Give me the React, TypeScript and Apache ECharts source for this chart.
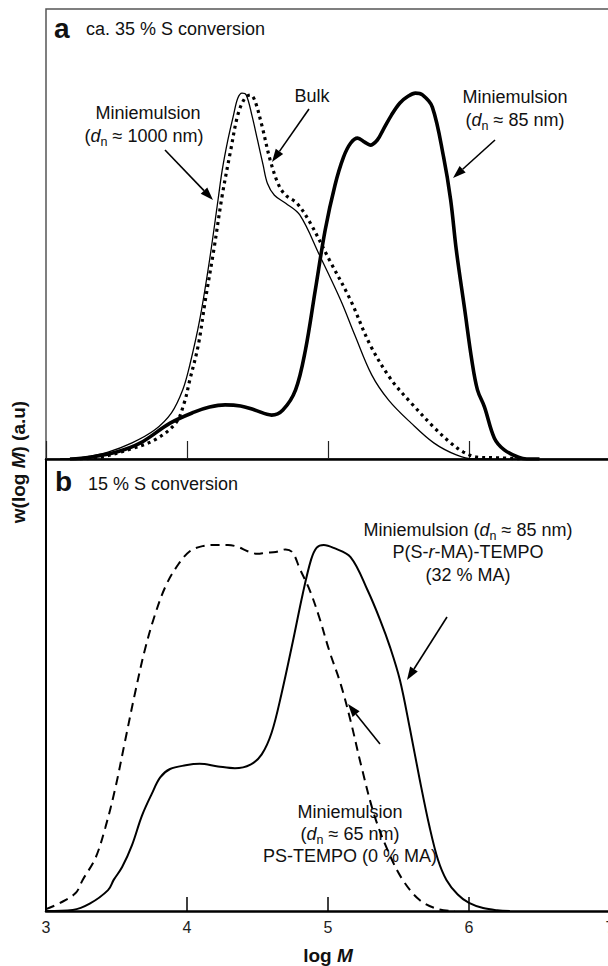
import React, { useEffect, useRef } from "react";
import * as echarts from "echarts";

// x axis (log M) ticks
const xTicks = [3, 4, 5, 6, 7];

// Panel a: ca. 35 % S conversion  [log M, w(log M)] (peak normalised to 100)
const aMini1000 = [
  [3.10, 0], [3.24, 0.3], [3.44, 1.9], [3.61, 4.4], [3.77, 7.9], [3.89, 12.6], [3.97, 18.9],
  [4.02, 25.7], [4.09, 38.0], [4.16, 54.4], [4.22, 70.8], [4.25, 79.0], [4.29, 87.2],
  [4.33, 94.0], [4.36, 98.6], [4.39, 100], [4.42, 99.5], [4.46, 94.0], [4.50, 87.2],
  [4.54, 80.3], [4.57, 75.4], [4.62, 72.1], [4.70, 69.9], [4.80, 66.7], [4.94, 55.7],
  [5.09, 43.4], [5.19, 33.9], [5.31, 23.0], [5.43, 16.1], [5.59, 9.8], [5.75, 4.4],
  [5.91, 1.1], [6.03, 0], [6.15, 0],
];
const aBulk = [
  [3.24, 0], [3.39, 0.5], [3.58, 2.5], [3.77, 5.2], [3.92, 9.8], [3.98, 15.3], [4.02, 21.6],
  [4.08, 31.1], [4.13, 43.4], [4.19, 57.1], [4.25, 72.1], [4.31, 84.4], [4.36, 94.0],
  [4.41, 98.6], [4.45, 99.5], [4.48, 98.1], [4.53, 91.3], [4.59, 81.7], [4.65, 74.9],
  [4.70, 72.1], [4.78, 69.9], [4.87, 64.8], [5.01, 54.4], [5.16, 43.4], [5.30, 31.1],
  [5.45, 21.6], [5.59, 15.3], [5.75, 8.7], [5.87, 4.4], [5.96, 1.9], [6.06, 0.5],
  [6.22, 0.3], [6.36, 0],
];
const aMini85 = [
  [3.17, 0], [3.31, 0.5], [3.50, 1.9], [3.67, 4.4], [3.88, 9.8], [4.05, 12.8], [4.16, 14.2],
  [4.27, 14.8], [4.38, 14.5], [4.48, 13.4], [4.60, 12.0], [4.68, 13.4], [4.77, 18.9],
  [4.84, 29.8], [4.91, 46.2], [4.98, 62.6], [5.05, 74.9], [5.11, 82.5], [5.16, 86.3],
  [5.21, 87.7], [5.26, 86.6], [5.30, 85.8], [5.35, 87.2], [5.39, 89.9], [5.45, 94.0],
  [5.51, 97.3], [5.57, 99.2], [5.62, 100], [5.67, 99.5], [5.74, 96.2], [5.82, 82.5],
  [5.87, 70.8], [5.91, 57.1], [5.97, 40.7], [6.02, 27.0], [6.06, 18.9], [6.11, 14.2],
  [6.18, 5.7], [6.25, 2.5], [6.35, 0.5], [6.41, 0], [6.50, 0],
];

// Panel b: 15 % S conversion
const bMini65 = [
  [3.00, 0.5], [3.10, 2.2], [3.21, 4.9], [3.26, 8.5], [3.35, 14.4], [3.42, 22.7], [3.49, 33.3],
  [3.56, 46.3], [3.63, 59.3], [3.70, 71.2], [3.77, 80.6], [3.85, 88.9], [3.94, 94.8],
  [4.02, 98.3], [4.11, 99.7], [4.20, 100], [4.29, 100], [4.36, 99.5], [4.43, 98.3],
  [4.50, 97.6], [4.56, 97.9], [4.63, 98.1], [4.70, 98.8], [4.75, 97.9], [4.80, 93.5],
  [4.87, 87.7], [4.94, 80.0], [5.01, 71.0], [5.09, 62.0], [5.16, 52.0], [5.24, 39.0],
  [5.33, 26.0], [5.43, 16.0], [5.53, 8.5], [5.65, 3.0], [5.78, 0.5], [5.90, 0],
];
const bMini85 = [
  [3.00, 0], [3.19, 0.3], [3.31, 2.0], [3.44, 5.7], [3.48, 8.5], [3.54, 12.0], [3.61, 18.0],
  [3.68, 26.0], [3.75, 32.0], [3.81, 36.5], [3.88, 38.8], [3.99, 39.8], [4.09, 40.2],
  [4.22, 39.5], [4.34, 39.0], [4.45, 40.0], [4.53, 42.8], [4.60, 48.7], [4.67, 59.3],
  [4.75, 73.5], [4.82, 86.5], [4.88, 96.0], [4.92, 99.3], [4.97, 100], [5.04, 99.2],
  [5.16, 96.7], [5.28, 87.7], [5.37, 79.5], [5.44, 72.1], [5.51, 63.1], [5.58, 50.0],
  [5.65, 36.0], [5.72, 23.0], [5.78, 14.0], [5.84, 8.5], [5.92, 4.5], [6.00, 2.2],
  [6.10, 0.8], [6.20, 0.2], [6.29, 0],
];

const FONT = "'Liberation Sans', Arial, Helvetica, sans-serif";
const FS = 18;

function arrow(x1: number, y1: number, x2: number, y2: number) {
  const ang = Math.atan2(y2 - y1, x2 - x1);
  const L = 13;
  const W = 4.5;
  const bx = x2 - L * Math.cos(ang);
  const by = y2 - L * Math.sin(ang);
  const px = -Math.sin(ang) * W;
  const py = Math.cos(ang) * W;
  return [
    { type: "line", silent: true, shape: { x1, y1, x2: bx, y2: by }, style: { stroke: "#000", lineWidth: 1.6 } },
    { type: "polygon", silent: true, shape: { points: [[x2, y2], [bx + px, by + py], [bx - px, by - py]] }, style: { fill: "#000" } },
  ];
}

const rich = {
  it: { fontStyle: "italic", fontSize: FS, fontFamily: FONT, fill: "#111", lineHeight: 24, verticalAlign: "middle" },
  sub: { fontSize: 12.5, fontFamily: FONT, fill: "#111", lineHeight: 12, verticalAlign: "bottom" },
};

function label(x: number, y: number, text: string, opts: any = {}) {
  return {
    type: "text",
    silent: true,
    x,
    y,
    rotation: opts.rotation || 0,
    style: {
      text,
      fill: "#111",
      fontSize: opts.fontSize || FS,
      fontFamily: FONT,
      fontWeight: opts.fontWeight || "normal",
      lineHeight: 24,
      align: opts.align || "center",
      verticalAlign: "middle",
      textAlign: opts.align || "center",
      textVerticalAlign: "middle",
      rich: opts.rich || rich,
    },
  };
}

function line(data: number[][], idx: number, width: number, type: any) {
  return {
    type: "line",
    xAxisIndex: idx,
    yAxisIndex: idx,
    data,
    showSymbol: false,
    symbol: "none",
    smooth: 0.35,
    lineStyle: { color: "#000", width, type },
    z: 3,
  };
}

export default function App() {
  const ref = useRef<HTMLDivElement>(null);
  useEffect(() => {
    if (!ref.current) return;
    const chart = echarts.init(ref.current, null, { renderer: "svg" });
    const xBase = {
      type: "value",
      min: xTicks[0],
      max: xTicks[xTicks.length - 1],
      interval: 1,
      splitLine: { show: false },
      axisLine: { show: true, onZero: false, lineStyle: { color: "#000", width: 2.5 } },
    };
    const boldRich = {
      bi: { fontStyle: "italic", fontWeight: "bold", fontSize: 19, fontFamily: FONT, fill: "#111" },
    };
    chart.setOption({
      animation: false,
      backgroundColor: "#fff",
      grid: [
        {
          left: 46, top: 9, width: 564, height: 450, show: true, borderColor: "#555", borderWidth: 1.5,
          backgroundColor: "transparent", containLabel: false, outerBoundsMode: "none",
        },
        { left: 46, top: 459, width: 564, height: 452, containLabel: false, outerBoundsMode: "none" },
      ],
      xAxis: [
        {
          ...xBase,
          gridIndex: 0,
          axisTick: { show: true, inside: true, length: 18, lineStyle: { color: "#222", width: 1.2 } },
          axisLabel: { show: false },
        },
        {
          ...xBase,
          gridIndex: 1,
          axisTick: { show: true, inside: true, length: 14, lineStyle: { color: "#000", width: 1.5 } },
          axisLabel: { show: true, fontSize: 16, color: "#222", fontFamily: FONT, margin: 8, hideOverlap: false },
        },
      ],
      yAxis: [
        {
          type: "value", gridIndex: 0, min: 0, max: 123,
          axisLine: { show: false }, axisTick: { show: false }, axisLabel: { show: false }, splitLine: { show: false },
        },
        {
          type: "value", gridIndex: 1, min: 0, max: 123.5,
          axisLine: { show: true, lineStyle: { color: "#000", width: 2 } },
          axisTick: { show: false }, axisLabel: { show: false }, splitLine: { show: false },
        },
      ],
      series: [
        line(aMini85, 0, 3.6, "solid"),
        line(aBulk, 0, 3.2, [3, 4]),
        line(aMini1000, 0, 1.3, "solid"),
        line(bMini65, 1, 2, [9, 6]),
        line(bMini85, 1, 2, "solid"),
      ],
      graphic: [
        label(54, 28, "a", { fontSize: 28, fontWeight: "bold", align: "left" }),
        label(86, 29, "ca. 35 % S conversion", { align: "left" }),
        label(148, 113, "Miniemulsion"),
        label(144, 136, "({it|d}{sub|n} ≈ 1000 nm)"),
        label(312, 96, "Bulk"),
        label(515, 97, "Miniemulsion"),
        label(515, 120, "({it|d}{sub|n} ≈ 85 nm)"),
        ...arrow(165, 150, 213, 200),
        ...arrow(309, 109, 272, 162),
        ...arrow(495, 140, 453, 178),

        label(55, 481, "b", { fontSize: 28, fontWeight: "bold", align: "left" }),
        label(88, 484, "15 % S conversion", { align: "left" }),
        label(468, 530, "Miniemulsion ({it|d}{sub|n} ≈ 85 nm)"),
        label(468, 552, "P(S-{it|r}-MA)-TEMPO"),
        label(468, 575, "(32 % MA)"),
        ...arrow(447, 617, 407, 680),
        label(350, 812, "Miniemulsion"),
        label(350, 834, "({it|d}{sub|n} ≈ 65 nm)"),
        label(350, 856, "PS-TEMPO (0 % MA)"),
        ...arrow(380, 744, 348, 704),

        label(328, 955, "log {bi|M}", { fontSize: 19, fontWeight: "bold", rich: boldRich }),
        label(18, 462, "w(log {bi|M}) (a.u)", { fontSize: 19, fontWeight: "bold", rich: boldRich, rotation: Math.PI / 2 }),
      ],
    });
    return () => chart.dispose();
  }, []);
  return (
    <div
      ref={ref}
      style={{ position: "fixed", left: 0, top: 0, width: 608, height: 966, background: "#fff" }}
    />
  );
}
